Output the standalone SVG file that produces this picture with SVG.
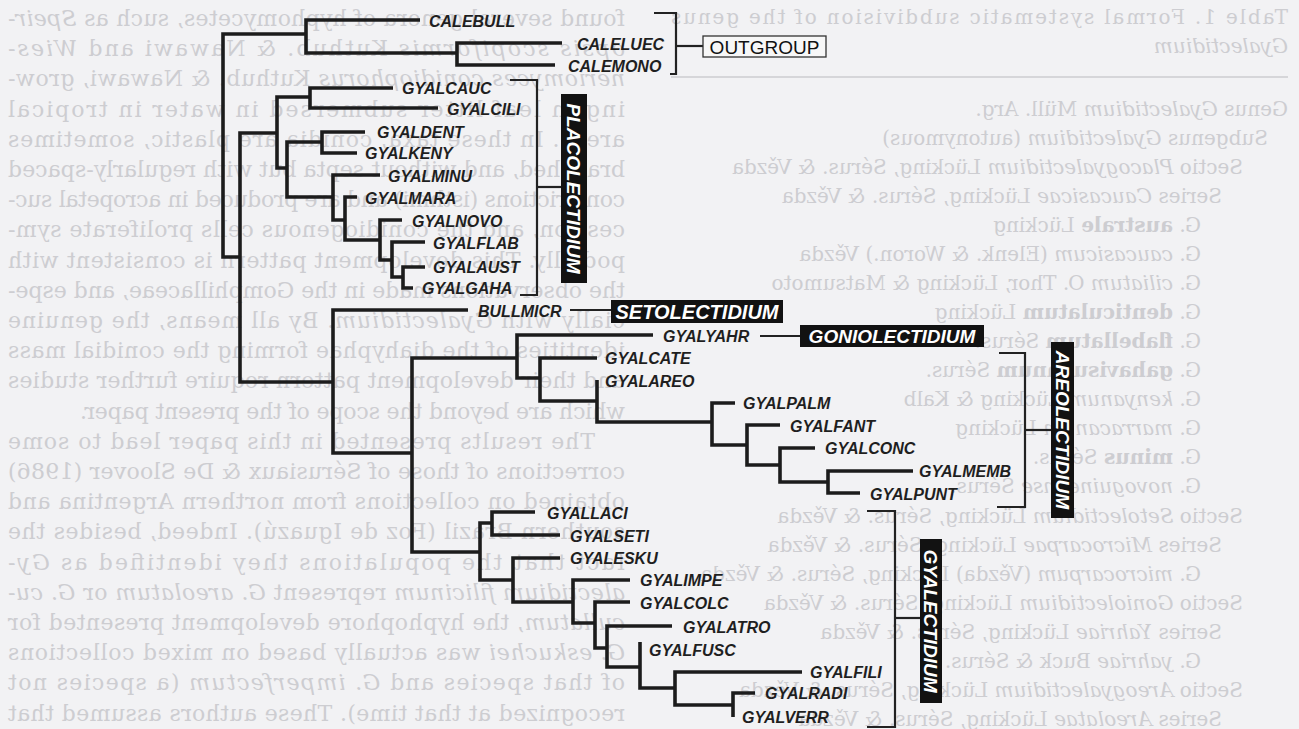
<svg xmlns="http://www.w3.org/2000/svg" width="1299" height="729" viewBox="0 0 1299 729">
<style>
.bg{font-family:"DejaVu Serif","Liberation Serif",serif;font-size:22px;fill:#cdcdd1}
.bgr{font-family:"DejaVu Serif","Liberation Serif",serif;font-size:20px;fill:#cdcdd1}
.e{stroke:#1c1c1c;stroke-width:3.6;fill:none;stroke-linejoin:miter}
.br{stroke:#222;stroke-width:2.2;fill:none}
.t{font-family:"Liberation Sans",Arial,sans-serif;font-weight:bold;font-style:italic;font-size:16px;fill:#1f1f1f}
.box{fill:#121212}
.bt{font-family:"Liberation Sans",Arial,sans-serif;font-weight:bold;font-style:italic;fill:#ffffff;text-anchor:middle}
</style>
<rect width="1299" height="729" fill="#f2f2f4"/>

<!-- faint show-through of the reverse page (mirrored) -->
<g id="showthrough" transform="matrix(-1 0 0 1 1299 0)">
  <g class="bgr">
    <text x="11" y="24" textLength="617" lengthAdjust="spacing">Table 1. Formal systematic subdivision of the genus</text>
    <text x="11" y="53"><tspan font-style="italic">Gyalectidium</tspan></text>
    <text x="11" y="116">Genus <tspan font-style="italic">Gyalectidium</tspan> Müll. Arg.</text>
    <text x="31" y="145">Subgenus <tspan font-style="italic">Gyalectidium</tspan> (autonymous)</text>
    <text x="56" y="174">Sectio <tspan font-style="italic">Placogyalectidium</tspan> Lücking, Sérus. &amp; Vězda</text>
    <text x="77" y="203">Series <tspan font-style="italic">Caucasicae</tspan> Lücking, Sérus. &amp; Vězda</text>
    <text x="98" y="232">G. <tspan font-weight="bold">australe</tspan> Lücking</text>
    <text x="98" y="261">G. <tspan font-style="italic">caucasicum</tspan> (Elenk. &amp; Woron.) Vězda</text>
    <text x="98" y="290">G. <tspan font-style="italic">ciliatum</tspan> O. Thor, Lücking &amp; Matsumoto</text>
    <text x="98" y="319">G. <tspan font-weight="bold">denticulatum</tspan> Lücking</text>
    <text x="98" y="348">G. <tspan font-weight="bold">flabellatum</tspan> Sérus.</text>
    <text x="98" y="377">G. <tspan font-weight="bold">gahavisukanum</tspan> Sérus.</text>
    <text x="98" y="406">G. <tspan font-style="italic">kenyanum</tspan> Lücking &amp; Kalb</text>
    <text x="98" y="435">G. <tspan font-style="italic">marracanum</tspan> Lücking</text>
    <text x="98" y="464">G. <tspan font-weight="bold">minus</tspan> Sérus.</text>
    <text x="98" y="493">G. <tspan font-style="italic">novoguineense</tspan> Sérus.</text>
    <text x="56" y="523">Sectio <tspan font-style="italic">Setolectidium</tspan> Lücking, Sérus. &amp; Vězda</text>
    <text x="77" y="552">Series <tspan font-style="italic">Microcarpae</tspan> Lücking, Sérus. &amp; Vězda</text>
    <text x="98" y="581">G. <tspan font-style="italic">microcarpum</tspan> (Vězda) Lücking, Sérus. &amp; Vězda</text>
    <text x="56" y="610">Sectio <tspan font-style="italic">Goniolectidium</tspan> Lücking, Sérus. &amp; Vězda</text>
    <text x="77" y="639">Series <tspan font-style="italic">Yahriae</tspan> Lücking, Sérus. &amp; Vězda</text>
    <text x="98" y="668">G. <tspan font-style="italic">yahriae</tspan> Buck &amp; Sérus.</text>
    <text x="56" y="697">Sectio <tspan font-style="italic">Areogyalectidium</tspan> Lücking, Sérus. &amp; Vězda</text>
    <text x="77" y="726">Series <tspan font-style="italic">Areolatae</tspan> Lücking, Sérus. &amp; Vězda</text>
  </g>
  <line x1="11" y1="77" x2="628" y2="77" stroke="#cdcdd1" stroke-width="1.5"/>
  <g class="bg">
    <text x="674" y="26" textLength="617" lengthAdjust="spacing">found several genera of hyphomycetes, such as <tspan font-style="italic">Speir-</tspan></text>
    <text x="674" y="56" textLength="617" lengthAdjust="spacing"><tspan font-style="italic">opsis scopiformis</tspan> Kuthub. &amp; Nawawi and <tspan font-style="italic">Wies-</tspan></text>
    <text x="674" y="86" textLength="617" lengthAdjust="spacing"><tspan font-style="italic">neriomyces conidiophorus</tspan> Kuthub. &amp; Nawawi, grow-</text>
    <text x="674" y="117" textLength="617" lengthAdjust="spacing">ing in leaf litter submersed in water in tropical</text>
    <text x="674" y="147" textLength="617" lengthAdjust="spacing">areas. In these taxa, conidia are plastic, sometimes</text>
    <text x="674" y="177" textLength="617" lengthAdjust="spacing">branched, and without septa but with regularly-spaced</text>
    <text x="674" y="207" textLength="617" lengthAdjust="spacing">constrictions (isthmi) and are produced in acropetal suc-</text>
    <text x="674" y="237" textLength="617" lengthAdjust="spacing">cession, and the conidiogenous cells proliferate sym-</text>
    <text x="674" y="268" textLength="617" lengthAdjust="spacing">podially. This development pattern is consistent with</text>
    <text x="674" y="298" textLength="617" lengthAdjust="spacing">the observations made in the Gomphillaceae, and espe-</text>
    <text x="674" y="328" textLength="617" lengthAdjust="spacing">cially with <tspan font-style="italic">Gyalectidium</tspan>. By all means, the genuine</text>
    <text x="674" y="358" textLength="617" lengthAdjust="spacing">identities of the diahyphae forming the conidial mass</text>
    <text x="674" y="388" textLength="617" lengthAdjust="spacing">and their development pattern require further studies</text>
    <text x="674" y="419" textLength="545" lengthAdjust="spacing">which are beyond the scope of the present paper.</text>
    <text x="704" y="449" textLength="587" lengthAdjust="spacing">The results presented in this paper lead to some</text>
    <text x="674" y="479" textLength="617" lengthAdjust="spacing">corrections of those of Sérusiaux &amp; De Sloover (1986)</text>
    <text x="674" y="509" textLength="617" lengthAdjust="spacing">obtained on collections from northern Argentina and</text>
    <text x="674" y="539" textLength="617" lengthAdjust="spacing">southern Brazil (Foz de Iguazú). Indeed, besides the</text>
    <text x="674" y="570" textLength="617" lengthAdjust="spacing">fact that the populations they identified as <tspan font-style="italic">Gy-</tspan></text>
    <text x="674" y="600" textLength="617" lengthAdjust="spacing"><tspan font-style="italic">alectidium filicinum</tspan> represent <tspan font-style="italic">G. areolatum</tspan> or <tspan font-style="italic">G. cu-</tspan></text>
    <text x="674" y="630" textLength="617" lengthAdjust="spacing"><tspan font-style="italic">cullatum</tspan>, the hyphophore development presented for</text>
    <text x="674" y="660" textLength="617" lengthAdjust="spacing"><tspan font-style="italic">G. eskuchei</tspan> was actually based on mixed collections</text>
    <text x="674" y="690" textLength="617" lengthAdjust="spacing">of that species and <tspan font-style="italic">G. imperfectum</tspan> (a species not</text>
    <text x="674" y="721" textLength="617" lengthAdjust="spacing">recognized at that time). These authors assumed that</text>
  </g>
</g>

<!-- connectors -->
<g id="connectors">
  <g class="e">
    <path d="M306,34 H223 V257 H240"/>
    <path d="M420,20 H306 V53 H457"/>
    <path d="M562,43 H457 V65 H555"/>
    <path d="M277,133 H240 V382 H333"/>
    <path d="M310,97 H277 V168 H287"/>
    <path d="M393,88 H310 V108 H438"/>
    <path d="M322,142 H287 V197 H333"/>
    <path d="M365,132 H322 V153 H357"/>
    <path d="M380,175 H333 V220 H345"/>
    <path d="M357,197 H345 V240 H380"/>
    <path d="M402,220 H380 V260 H392"/>
    <path d="M425,242 H392 V277 H403"/>
    <path d="M425,267 H403 V288 H413"/>
    <path d="M468,310 H333 V453 H412"/>
    <path d="M517,358 H412 V552 H480"/>
    <path d="M653,335 H517 V378 H540"/>
    <path d="M597,358 H540 V401 H597"/>
    <path d="M597,380 V422 H712"/>
    <path d="M735,403 H712 V445 H747"/>
    <path d="M780,425 H747 V465 H780"/>
    <path d="M815,448 H780 V482 H828"/>
    <path d="M913,471 H828 V493 H860"/>
    <path d="M492,523 H480 V580 H513"/>
    <path d="M535,512 H492 V535 H560"/>
    <path d="M560,558 H513 V602 H573"/>
    <path d="M630,580 H573 V623 H595"/>
    <path d="M630,602 H595 V648 H607"/>
    <path d="M672,626 H607 V667 H640"/>
    <path d="M640,642 V688 H675"/>
    <path d="M802,672 H675 V705 H733"/>
    <path d="M755,693 H733 V717"/>
  </g>
  <g class="br">
    <path d="M654,13 H676 V74 H670"/>
    <path d="M676,46 H703"/>
    <path d="M510,80 H537 V295 H520"/>
    <path d="M537,187 H561"/>
    <path d="M999,353 H1025 V507 H997"/>
    <path d="M1025,430 H1051"/>
    <path d="M867,511 H895 V727 H867"/>
    <path d="M895,618 H920"/>
    <path d="M570,310 H611"/>
    <path d="M760,336 H800"/>
  </g>
</g>

<!-- taxa -->
<g id="CALEBULL"><text class="t" x="429" y="27">CALEBULL</text></g>
<g id="CALELUEC"><text class="t" x="577" y="50">CALELUEC</text></g>
<g id="CALEMONO"><text class="t" x="568" y="72">CALEMONO</text></g>
<g id="GYALCAUC"><text class="t" x="402" y="94">GYALCAUC</text></g>
<g id="GYALCILI"><text class="t" x="447" y="115">GYALCILI</text></g>
<g id="GYALDENT"><text class="t" x="377" y="138">GYALDENT</text></g>
<g id="GYALKENY"><text class="t" x="365" y="159">GYALKENY</text></g>
<g id="GYALMINU"><text class="t" x="388" y="182">GYALMINU</text></g>
<g id="GYALMARA"><text class="t" x="365" y="204">GYALMARA</text></g>
<g id="GYALNOVO"><text class="t" x="412" y="227">GYALNOVO</text></g>
<g id="GYALFLAB"><text class="t" x="433" y="249">GYALFLAB</text></g>
<g id="GYALAUST"><text class="t" x="433" y="273">GYALAUST</text></g>
<g id="GYALGAHA"><text class="t" x="422" y="294">GYALGAHA</text></g>
<g id="BULLMICR"><text class="t" x="478" y="317">BULLMICR</text></g>
<g id="GYALYAHR"><text class="t" x="663" y="342">GYALYAHR</text></g>
<g id="GYALCATE"><text class="t" x="605" y="364">GYALCATE</text></g>
<g id="GYALAREO"><text class="t" x="605" y="387">GYALAREO</text></g>
<g id="GYALPALM"><text class="t" x="743" y="409">GYALPALM</text></g>
<g id="GYALFANT"><text class="t" x="790" y="432">GYALFANT</text></g>
<g id="GYALCONC"><text class="t" x="825" y="454">GYALCONC</text></g>
<g id="GYALMEMB"><text class="t" x="919" y="477">GYALMEMB</text></g>
<g id="GYALPUNT"><text class="t" x="870" y="500">GYALPUNT</text></g>
<g id="GYALLACI"><text class="t" x="547" y="519">GYALLACI</text></g>
<g id="GYALSETI"><text class="t" x="570" y="542">GYALSETI</text></g>
<g id="GYALESKU"><text class="t" x="570" y="564">GYALESKU</text></g>
<g id="GYALIMPE"><text class="t" x="640" y="586">GYALIMPE</text></g>
<g id="GYALCOLC"><text class="t" x="640" y="609">GYALCOLC</text></g>
<g id="GYALATRO"><text class="t" x="683" y="633">GYALATRO</text></g>
<g id="GYALFUSC"><text class="t" x="649" y="656">GYALFUSC</text></g>
<g id="GYALFILI"><text class="t" x="810" y="678">GYALFILI</text></g>
<g id="GYALRADI"><text class="t" x="765" y="699">GYALRADI</text></g>
<g id="GYALVERR"><text class="t" x="742" y="723">GYALVERR</text></g>

<!-- group labels -->
<g id="OUTGROUP">
  <rect x="703" y="36" width="123" height="21" fill="#f7f7f7" stroke="#333" stroke-width="1.3"/>
  <text x="764.5" y="53.5" text-anchor="middle" font-family="'Liberation Sans',Arial,sans-serif" font-size="19" fill="#111">OUTGROUP</text>
</g>
<g id="PLACOLECTIDIUM">
  <rect class="box" x="561" y="94" width="26" height="189"/>
  <text class="bt" font-size="19" transform="translate(574,188.5) rotate(90)" y="6.8">PLACOLECTIDIUM</text>
</g>
<g id="SETOLECTIDIUM">
  <rect class="box" x="611" y="300" width="172" height="23"/>
  <text class="bt" font-size="20" x="697" y="318.5">SETOLECTIDIUM</text>
</g>
<g id="GONIOLECTIDIUM">
  <rect class="box" x="800" y="325" width="184" height="22"/>
  <text class="bt" font-size="19" x="892" y="342.8">GONIOLECTIDIUM</text>
</g>
<g id="AREOLECTIDIUM">
  <rect class="box" x="1051" y="342" width="23" height="176"/>
  <text class="bt" font-size="19" transform="translate(1062.5,430) rotate(90)" y="6.8">AREOLECTIDIUM</text>
</g>
<g id="GYALECTIDIUM">
  <rect class="box" x="920" y="539" width="22" height="164"/>
  <text class="bt" font-size="19" transform="translate(931,621) rotate(90)" y="6.8">GYALECTIDIUM</text>
</g>
</svg>
